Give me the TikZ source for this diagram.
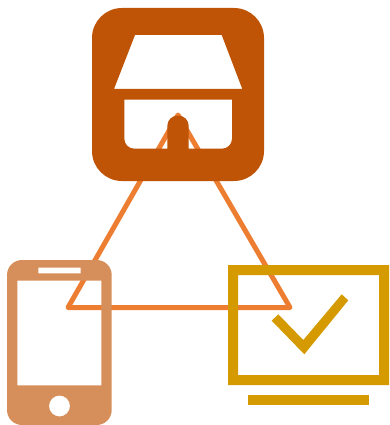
\documentclass[tikz,border=0pt]{standalone}
\definecolor{shopc}{HTML}{BF5306}
\definecolor{triac}{HTML}{ED7D31}
\definecolor{phonec}{HTML}{D68F5B}
\definecolor{monc}{HTML}{D49A00}
\begin{document}
\begin{tikzpicture}[x=1pt,y=-1pt,
  triline/.style={draw=triac,line width=5pt,line join=round},
  shopicon/.style={fill=shopc,even odd rule},
  phoneicon/.style={fill=phonec,even odd rule},
  monicon/.style={fill=monc,even odd rule}]
\useasboundingbox (0,0) rectangle (390,425);
% triangle, behind the icons
\draw[triline] (178,115) -- (68,307.5) -- (290,307.5) -- cycle;
% shop
\path[shopicon]
  (122,8) -- (234,8) .. controls (250.6,8) and (264,21.4) .. (264,38)
  -- (264,151) .. controls (264,167.6) and (250.6,181) .. (234,181)
  -- (122,181) .. controls (105.4,181) and (92,167.6) .. (92,151)
  -- (92,38) .. controls (92,21.4) and (105.4,8) .. (122,8) -- cycle
  (135,35) -- (221.7,35) -- (242.3,89) -- (114,89) -- cycle
  (124.3,99.7) -- (232,99.7) -- (232,138.7)
  .. controls (232,144.2) and (227.5,148.7) .. (222,148.7)
  -- (188.7,148.7) -- (188.7,126)
  .. controls (188.7,120) and (184,115.5) .. (178,115.5)
  .. controls (172,115.5) and (167.3,120) .. (167.3,126)
  -- (167.3,148.7) -- (134.3,148.7)
  .. controls (128.8,148.7) and (124.3,144.2) .. (124.3,138.7) -- cycle;
% phone
\path[phoneicon]
  (22,260) -- (96.7,260) .. controls (105,260) and (111.7,266.7) .. (111.7,275)
  -- (111.7,410) .. controls (111.7,418.3) and (105,425) .. (96.7,425)
  -- (22,425) .. controls (13.7,425) and (7,418.3) .. (7,410)
  -- (7,275) .. controls (7,266.7) and (13.7,260) .. (22,260) -- cycle
  (17.3,280.7) rectangle (101.3,385.3)
  (38.3,267.7) rectangle (80.7,273.3)
  (59.5,406) circle[radius=10.5];
% monitor
\path[monicon]
  (228,265) rectangle (389,385)
  (238,275) rectangle (379,375);
\path[monicon] (248.3,395) rectangle (368.7,405);
\path[monicon] (271.7,320.7) -- (278.3,314.3) -- (303.3,340) -- (341.7,294.3) -- (348.3,300.3) -- (304.3,354.3) -- cycle;
\end{tikzpicture}
\end{document}
